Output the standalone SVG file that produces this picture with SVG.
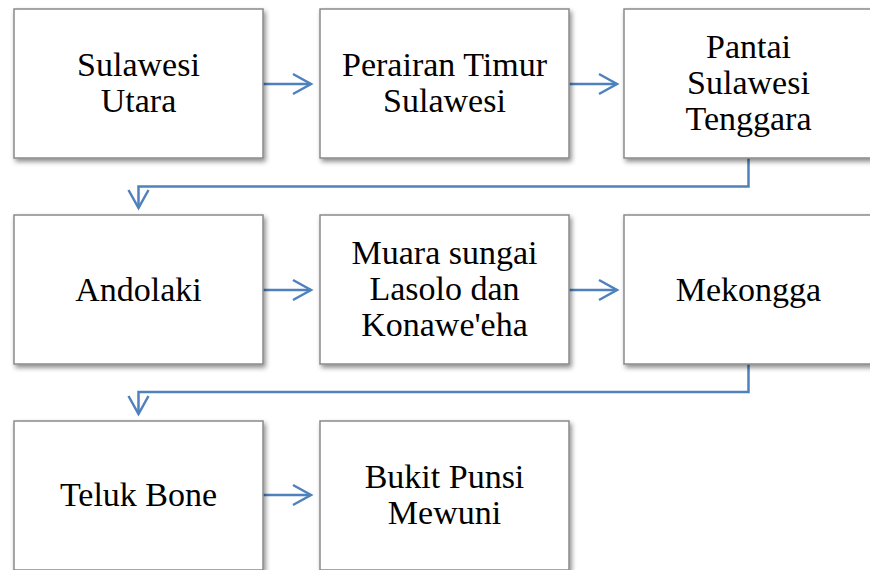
<svg xmlns="http://www.w3.org/2000/svg" width="870" height="570" viewBox="0 0 870 570">
<style>
.box{fill:#ffffff;stroke:#8a8a8a;stroke-width:1.5;filter:url(#sh)}
.lbl{font-family:"Liberation Serif","Times New Roman",serif;font-size:34px;fill:#000;text-anchor:middle}
.con{fill:none;stroke:#4f81bd;stroke-width:2.5}
</style>
<defs>
<filter id="sh" x="-10%" y="-10%" width="130%" height="130%">
<feGaussianBlur in="SourceAlpha" stdDeviation="2.5"/>
<feOffset dx="2" dy="3" result="b"/>
<feComponentTransfer><feFuncA type="linear" slope="0.45"/></feComponentTransfer>
<feMerge><feMergeNode/><feMergeNode in="SourceGraphic"/></feMerge>
</filter>
<marker id="arr" markerWidth="22" markerHeight="24" refX="19" refY="12" orient="auto" markerUnits="userSpaceOnUse">
<path d="M1,2 L19,12 L1,22" fill="none" stroke="#4f81bd" stroke-width="2.5"/>
</marker>
</defs>
<g id="connectors">
<path class="con" d="M263,84 L311,84" marker-end="url(#arr)"/>
<path class="con" d="M569,84 L617,84" marker-end="url(#arr)"/>
<path class="con" d="M748.5,158 L748.5,186.5 L138.5,186.5 L138.5,208" marker-end="url(#arr)"/>
<path class="con" d="M263,290 L311,290" marker-end="url(#arr)"/>
<path class="con" d="M569,290 L617,290" marker-end="url(#arr)"/>
<path class="con" d="M748.5,364 L748.5,392 L138.5,392 L138.5,414" marker-end="url(#arr)"/>
<path class="con" d="M263,495 L311,495" marker-end="url(#arr)"/>
</g>
<g id="n1"><rect class="box" x="14" y="9" width="249" height="149"/><text class="lbl" x="138.5" y="75.5">Sulawesi</text><text class="lbl" x="138.5" y="111.5">Utara</text></g>
<g id="n2"><rect class="box" x="320" y="9" width="249" height="149"/><text class="lbl" x="444.5" y="75.5">Perairan Timur</text><text class="lbl" x="444.5" y="111.5">Sulawesi</text></g>
<g id="n3"><rect class="box" x="624" y="9" width="249" height="149"/><text class="lbl" x="748.5" y="57.5">Pantai</text><text class="lbl" x="748.5" y="93.5">Sulawesi</text><text class="lbl" x="748.5" y="129.5">Tenggara</text></g>
<g id="n4"><rect class="box" x="14" y="215" width="249" height="149"/><text class="lbl" x="138.5" y="300.5">Andolaki</text></g>
<g id="n5"><rect class="box" x="320" y="215" width="249" height="149"/><text class="lbl" x="444.5" y="263.5">Muara sungai</text><text class="lbl" x="444.5" y="299.5">Lasolo dan</text><text class="lbl" x="444.5" y="335.5">Konawe'eha</text></g>
<g id="n6"><rect class="box" x="624" y="215" width="249" height="149"/><text class="lbl" x="748.5" y="300.5">Mekongga</text></g>
<g id="n7"><rect class="box" x="14" y="421" width="249" height="149"/><text class="lbl" x="138.5" y="506">Teluk Bone</text></g>
<g id="n8"><rect class="box" x="320" y="421" width="249" height="149"/><text class="lbl" x="444.5" y="488">Bukit Punsi</text><text class="lbl" x="444.5" y="524">Mewuni</text></g>
</svg>
